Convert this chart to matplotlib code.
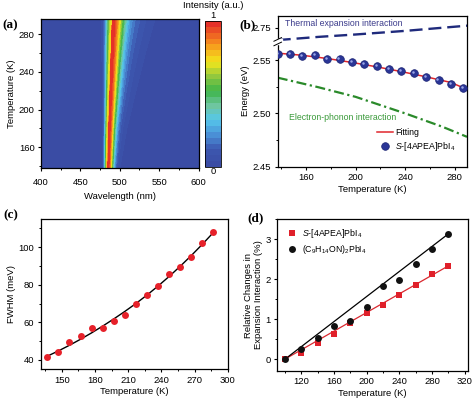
import numpy as np
import matplotlib
matplotlib.use('Agg')
import matplotlib.pyplot as plt
from matplotlib.colors import LinearSegmentedColormap
from matplotlib.ticker import MultipleLocator, FixedLocator, FormatStrFormatter
from matplotlib.transforms import ScaledTranslation

plt.rcParams['font.family'] = ['Liberation Sans', 'DejaVu Sans']
plt.rcParams['mathtext.fontset'] = 'custom'
plt.rcParams['mathtext.rm'] = 'Liberation Sans'
plt.rcParams['mathtext.it'] = 'Liberation Sans:italic'
plt.rcParams['mathtext.bf'] = 'Liberation Sans:bold'
plt.rcParams['axes.linewidth'] = 0.9
plt.rcParams['xtick.major.width'] = 0.8
plt.rcParams['ytick.major.width'] = 0.8
plt.rcParams['xtick.minor.width'] = 0.7
plt.rcParams['ytick.minor.width'] = 0.7
plt.rcParams['xtick.major.size'] = 2.5
plt.rcParams['ytick.major.size'] = 2.5
plt.rcParams['xtick.minor.size'] = 1.5
plt.rcParams['ytick.minor.size'] = 1.5

# (a) PL map: band shape read at a few temperatures
map_temp = [138, 180, 220, 260, 296]
map_peak = [484.8, 486.0, 487.5, 489.0, 490.5]
map_wleft = [2.8, 3.3, 4.0, 4.8, 5.5]
map_wright = [4.5, 5.5, 7.0, 8.5, 10.0]
map_tail = [0.20, 0.24, 0.28, 0.32, 0.35]
map_tailw = [9, 13, 18, 23, 28]

# (b) peak energy vs temperature
temp_b = [137, 147, 157, 167, 177, 187, 197, 207, 217, 227, 237, 247, 257, 267, 277, 287]
energy_b = [2.5557, 2.5554, 2.5536, 2.5551, 2.5510, 2.5507, 2.5480, 2.5463,
            2.5442, 2.5420, 2.5398, 2.5376, 2.5339, 2.5310, 2.5273, 2.5238]
fit_b_temp = [137, 157, 177, 197, 217, 237, 257, 277, 290]
fit_b = [2.5565, 2.5545, 2.5515, 2.5478, 2.5437, 2.5392, 2.5343, 2.5290, 2.5225]
te_temp = [137, 170, 200, 240, 290]
te_energy = [2.719, 2.727, 2.733, 2.742, 2.755]
ep_temp = [137, 170, 200, 240, 270, 290]
ep_energy = [2.5335, 2.5245, 2.5155, 2.5000, 2.4875, 2.4780]

# (c) FWHM
temp_c = [137, 147, 157, 167, 177, 187, 197, 207, 217, 227, 237, 247, 257, 267, 277, 287]
fwhm_c = [41.6, 44.1, 49.6, 52.8, 57.0, 57.2, 60.9, 64.0, 70.0, 74.3, 79.2, 85.8,
          89.7, 94.7, 102.0, 108.2]
fit_c = [42.0, 44.8, 47.8, 51.0, 54.4, 58.0, 61.8, 65.8, 70.0, 74.5, 79.3, 84.4,
         89.8, 95.5, 101.5, 107.8]

# (d) relative changes
temp_d = [100, 120, 140, 160, 180, 200, 220, 240, 260, 280, 300]
rel_s = [0.0, 0.15, 0.40, 0.63, 0.90, 1.14, 1.35, 1.61, 1.85, 2.12, 2.32]
rel_m = [0.0, 0.26, 0.53, 0.83, 0.95, 1.31, 1.83, 1.97, 2.38, 2.75, 3.13]
line_temp = [100, 300]
line_s = [0.0, 2.33]
line_m = [0.0, 3.13]

fig = plt.figure(figsize=(4.74, 3.98), dpi=100)
fs = 6.8

# ---------------- (a)
cmap = LinearSegmentedColormap.from_list('origin', [
    (0.0, '#3a4aa2'), (0.12, '#3d58b0'), (0.22, '#4a8fd6'), (0.32, '#55c7ec'),
    (0.42, '#6ec6a0'), (0.52, '#3db54a'), (0.62, '#92c83e'), (0.72, '#f2e61c'),
    (0.84, '#f7941d'), (1.0, '#e3232a')])

wl = np.linspace(400, 600, 801)
tt = np.linspace(138, 296, 159)
Z = np.zeros((len(tt), len(wl)))
for i, t in enumerate(tt):
    p = np.interp(t, map_temp, map_peak)
    wlft = np.interp(t, map_temp, map_wleft)
    wrgt = np.interp(t, map_temp, map_wright)
    amp = np.interp(t, map_temp, map_tail)
    tw = np.interp(t, map_temp, map_tailw)
    w = np.where(wl < p, wlft, wrgt)
    row = np.exp(-0.5 * ((wl - p) / w) ** 2)
    row += np.where(wl > p, amp * np.exp(-0.5 * ((wl - p) / tw) ** 2), 0)
    Z[i] = row / row.max()

ax_a = fig.add_axes([0.0865, 0.5779, 0.3323, 0.3744])
levels = np.linspace(0, 1, 26)
cs = ax_a.contourf(wl, tt, Z, levels=levels, cmap=cmap)
ax_a.set_xlim(400, 600)
ax_a.set_ylim(138, 296)
ax_a.xaxis.set_major_locator(MultipleLocator(50))
ax_a.xaxis.set_minor_locator(MultipleLocator(25))
ax_a.yaxis.set_major_locator(FixedLocator([160, 200, 240, 280]))
ax_a.yaxis.set_minor_locator(MultipleLocator(20))
ax_a.tick_params(labelsize=fs, pad=2)
ax_a.tick_params(axis='x', pad=5)
ax_a.set_xlabel('Wavelength (nm)', fontsize=fs, labelpad=3)
ax_a.set_ylabel('Temperature (K)', fontsize=fs, labelpad=2)

cax = fig.add_axes([0.4325, 0.5804, 0.0338, 0.3668])
cb = fig.colorbar(cs, cax=cax)
cb.set_ticks([])
cb.outline.set_linewidth(0.6)
fig.text(213 / 474, 1 - 6 / 398, 'Intensity (a.u.)', fontsize=fs, ha='center', va='center')
fig.text(213 / 474, 1 - 16 / 398, '1', fontsize=fs, ha='center', va='center')
fig.text(213 / 474, 1 - 172 / 398, '0', fontsize=fs, ha='center', va='center')

# ---------------- (b)
e_pts = [2.0, 2.45, 2.567, 2.715, 2.78, 3.5]
u_pts = [-479.7, 0.0, 124.7, 125.0, 151.0, 439.0]


def fwd(e):
    return np.interp(e, e_pts, u_pts)


def inv(u):
    return np.interp(u, u_pts, e_pts)


ax_b = fig.add_axes([0.5859, 0.5812, 0.3994, 0.3794])
ax_b.set_yscale('function', functions=(fwd, inv))
ax_b.plot(te_temp, te_energy, color='#1f2a7c', lw=1.7, dashes=(5.5, 2.5))
ax_b.plot(ep_temp, ep_energy, color='#2a8a2a', lw=1.6, dashes=(4.5, 1.6, 1.0, 1.6))
ax_b.plot(fit_b_temp, fit_b, color='#e0262c', lw=1.1, label='Fitting')
ax_b.plot(temp_b, energy_b, 'o', ms=5.5, color='#2a3596', mec='#1b2372', mew=0.5,
          label=r'$\it{S}$-[4APEA]PbI$_4$', zorder=4)
shift = ax_b.transData + ScaledTranslation(-0.8 / 72, 0.8 / 72, fig.dpi_scale_trans)
ax_b.plot(temp_b, energy_b, 'o', ms=1.8, color='#9aa5e6', mew=0, transform=shift, zorder=5)
ax_b.set_xlim(137, 290)
ax_b.set_ylim(2.45, 2.78)
ax_b.yaxis.set_major_locator(FixedLocator([2.45, 2.50, 2.55, 2.75]))
ax_b.yaxis.set_minor_locator(FixedLocator([2.475, 2.525]))
ax_b.yaxis.set_major_formatter(FormatStrFormatter('%.2f'))
ax_b.xaxis.set_major_locator(MultipleLocator(40))
ax_b.xaxis.set_minor_locator(MultipleLocator(20))
ax_b.set_xticks([160, 200, 240, 280])
ax_b.tick_params(labelsize=fs, pad=2)
ax_b.set_xlabel('Temperature (K)', fontsize=fs, labelpad=2)
ax_b.set_ylabel('Energy (eV)', fontsize=fs, labelpad=2)
ax_b.text(0.04, 0.945, 'Thermal expansion interaction', transform=ax_b.transAxes,
          fontsize=6.3, color='#3c3c8c', va='center')
ax_b.text(0.058, 0.325, 'Electron-phonon interaction', transform=ax_b.transAxes,
          fontsize=6.3, color='#3a9a3a', va='center')
ax_b.legend(loc='lower right', bbox_to_anchor=(0.97, 0.05), frameon=False, fontsize=6.3,
            handlelength=1.8, handletextpad=0.2, labelspacing=0.3, borderpad=0.2)
# axis break on the left spine
yb = 125.0 / 151.0
ax_b.add_patch(plt.Rectangle((-0.02, yb - 0.018), 0.04, 0.036, transform=ax_b.transAxes,
                             color='white', clip_on=False, zorder=6))
for dy in (-0.015, 0.015):
    ax_b.plot([-0.02, 0.02], [yb + dy - 0.012, yb + dy + 0.012], transform=ax_b.transAxes,
              color='black', lw=0.7, clip_on=False, zorder=7)

# ---------------- (c)
ax_c = fig.add_axes([0.0859, 0.0721, 0.3945, 0.3776])
ax_c.plot(temp_c, fit_c, color='black', lw=1.0)
ax_c.plot(temp_c, fwhm_c, 'o', ms=5.0, color='#e6212a', mew=0)
ax_c.set_xlim(131, 300)
ax_c.set_ylim(35, 115)
ax_c.xaxis.set_major_locator(MultipleLocator(30))
ax_c.xaxis.set_minor_locator(MultipleLocator(15))
ax_c.yaxis.set_major_locator(MultipleLocator(20))
ax_c.yaxis.set_minor_locator(MultipleLocator(10))
ax_c.tick_params(labelsize=fs, pad=2)
ax_c.set_xlabel('Temperature (K)', fontsize=fs, labelpad=2)
ax_c.set_ylabel('FWHM (meV)', fontsize=fs, labelpad=2)

# ---------------- (d)
ax_d = fig.add_axes([0.5844, 0.0678, 0.4030, 0.3819])
ax_d.plot(line_temp, line_s, color='#d9282f', lw=0.9)
ax_d.plot(line_temp, line_m, color='black', lw=0.9)
ax_d.plot(temp_d, rel_s, 's', ms=4.5, color='#e0202a', mew=0, label=r'$\it{S}$-[4APEA]PbI$_4$')
ax_d.plot(temp_d, rel_m, 'o', ms=5.0, color='#111111', mew=0,
          label=r'(C$_9$H$_{14}$ON)$_2$PbI$_4$')
ax_d.set_xlim(90, 324)
ax_d.set_ylim(-0.3, 3.5)
ax_d.xaxis.set_major_locator(MultipleLocator(40))
ax_d.xaxis.set_minor_locator(MultipleLocator(20))
ax_d.set_xticks([120, 160, 200, 240, 280, 320])
ax_d.yaxis.set_major_locator(MultipleLocator(1))
ax_d.yaxis.set_minor_locator(MultipleLocator(0.5))
ax_d.tick_params(labelsize=fs, pad=2)
ax_d.set_xlabel('Temperature (K)', fontsize=fs, labelpad=2)
ax_d.set_ylabel('Relative Changes in\nExpansion Interaction (%)', fontsize=fs, labelpad=2,
                linespacing=1.1)
ax_d.legend(loc='upper left', bbox_to_anchor=(0.02, 0.99), frameon=False, fontsize=6.3,
            handlelength=1.2, handletextpad=0.5, labelspacing=0.4, borderpad=0.2)

for ax in (ax_a, ax_b, ax_c, ax_d):
    ax.tick_params(which='both', direction='out', top=False, right=False)

# panel tags
tag = dict(fontsize=9.5, fontweight='bold', family='Liberation Serif', va='center')
fig.text(2 / 474, 1 - 25 / 398, '(a)', **tag)
fig.text(239 / 474, 1 - 25 / 398, '(b)', **tag)
fig.text(3 / 474, 1 - 215 / 398, '(c)', **tag)
fig.text(247 / 474, 1 - 218 / 398, '(d)', **tag)

fig.savefig('out.png', dpi=100)
